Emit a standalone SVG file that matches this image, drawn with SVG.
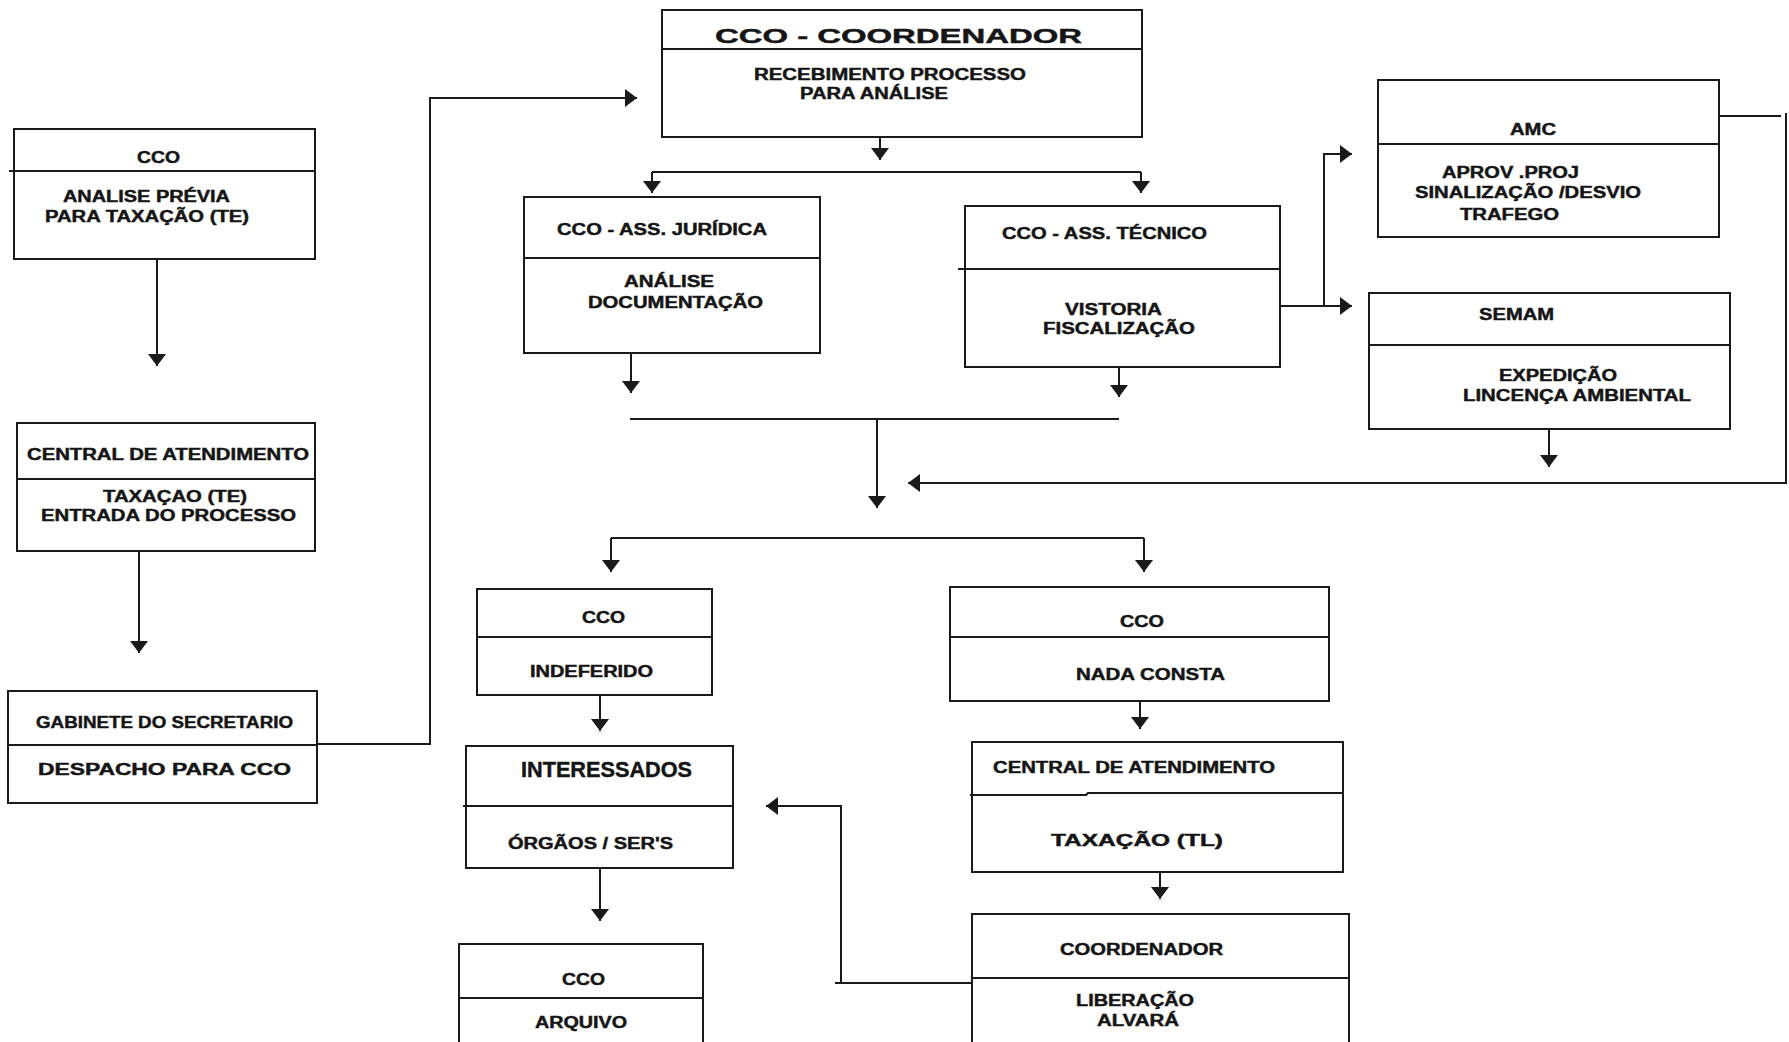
<svg xmlns="http://www.w3.org/2000/svg" width="1789" height="1042" viewBox="0 0 1789 1042">
<style>
.box{fill:#fff;stroke:#1a1a1a;stroke-width:2}
.div{stroke:#1a1a1a;stroke-width:2;fill:none}
.c{stroke:#1a1a1a;stroke-width:2;fill:none}
.a{stroke:#1a1a1a;stroke-width:2;fill:none;marker-end:url(#ah)}
text{font-family:"Liberation Sans",Arial,sans-serif;font-weight:bold;font-size:16px;fill:#151515;stroke:#151515;stroke-width:0.45}
.big{font-size:20px}
.int{font-size:22px}
</style>
<defs>
<marker id="ah" markerUnits="userSpaceOnUse" markerWidth="14" markerHeight="20" refX="12" refY="10" orient="auto" viewBox="0 0 14 20">
<path d="M0,1 L12,10 L0,19 z" fill="#1a1a1a"/>
</marker>
</defs>
<rect width="1789" height="1042" fill="#fff"/>

<g id="connectors">
<path class="a" d="M157,259 V366"/>
<path class="a" d="M139,551 V653"/>
<path class="a" d="M317,744 H430 V98 H637"/>
<path class="a" d="M880,137 V160"/>
<path class="c" d="M652,172 H1141"/>
<path class="a" d="M652,172 V193"/>
<path class="a" d="M1141,172 V193"/>
<path class="a" d="M631,353 V393"/>
<path class="a" d="M1119,367 V397"/>
<path class="c" d="M630,419 H1119"/>
<path class="a" d="M877,419 V508"/>
<path class="a" d="M1280,306 H1352"/>
<path class="a" d="M1324,307 V154 H1352"/>
<path class="c" d="M1719,116 H1781"/>
<path class="a" d="M1786,113 V483 H908"/>
<path class="a" d="M1549,429 V467"/>
<path class="c" d="M611,538 H1144"/>
<path class="a" d="M611,538 V572"/>
<path class="a" d="M1144,538 V572"/>
<path class="a" d="M600,695 V731"/>
<path class="a" d="M600,868 V921"/>
<path class="a" d="M1140,701 V729"/>
<path class="a" d="M1160,872 V899"/>
<path class="c" d="M976,983 H835"/>
<path class="a" d="M841,983 V806 H766"/>
</g>

<g id="cco-analise">
<rect class="box" x="14" y="129" width="301" height="130"/>
<path class="div" d="M9,171 H315"/>
<text x="137" y="163" textLength="43" lengthAdjust="spacingAndGlyphs">CCO</text>
<text x="63" y="202" textLength="167" lengthAdjust="spacingAndGlyphs">ANALISE PRÉVIA</text>
<text x="45" y="222" textLength="204" lengthAdjust="spacingAndGlyphs">PARA TAXAÇÃO (TE)</text>
</g>

<g id="central-te">
<rect class="box" x="17" y="423" width="298" height="128"/>
<path class="div" d="M17,479 H315"/>
<text x="27" y="460" textLength="282" lengthAdjust="spacingAndGlyphs">CENTRAL DE ATENDIMENTO</text>
<text x="103" y="502" textLength="144" lengthAdjust="spacingAndGlyphs">TAXAÇAO (TE)</text>
<text x="41" y="521" textLength="255" lengthAdjust="spacingAndGlyphs">ENTRADA DO PROCESSO</text>
</g>

<g id="gabinete">
<rect class="box" x="8" y="691" width="309" height="112"/>
<path class="div" d="M8,745 H317"/>
<text x="36" y="728" textLength="257" lengthAdjust="spacingAndGlyphs">GABINETE DO SECRETARIO</text>
<text x="38" y="775" textLength="253" lengthAdjust="spacingAndGlyphs">DESPACHO PARA CCO</text>
</g>

<g id="cco-coordenador">
<rect class="box" x="662" y="10" width="480" height="127"/>
<path class="div" d="M662,49 H1142"/>
<text class="big" x="715" y="43" textLength="367" lengthAdjust="spacingAndGlyphs">CCO - COORDENADOR</text>
<text x="754" y="80" textLength="272" lengthAdjust="spacingAndGlyphs">RECEBIMENTO PROCESSO</text>
<text x="800" y="99" textLength="148" lengthAdjust="spacingAndGlyphs">PARA ANÁLISE</text>
</g>

<g id="ass-juridica">
<rect class="box" x="524" y="197" width="296" height="156"/>
<path class="div" d="M524,258 H820"/>
<text x="557" y="235" textLength="210" lengthAdjust="spacingAndGlyphs">CCO - ASS. JURÍDICA</text>
<text x="624" y="287" textLength="90" lengthAdjust="spacingAndGlyphs">ANÁLISE</text>
<text x="588" y="308" textLength="175" lengthAdjust="spacingAndGlyphs">DOCUMENTAÇÃO</text>
</g>

<g id="ass-tecnico">
<rect class="box" x="965" y="206" width="315" height="161"/>
<path class="div" d="M958,269 H1280"/>
<text x="1002" y="239" textLength="205" lengthAdjust="spacingAndGlyphs">CCO - ASS. TÉCNICO</text>
<text x="1065" y="315" textLength="97" lengthAdjust="spacingAndGlyphs">VISTORIA</text>
<text x="1043" y="334" textLength="152" lengthAdjust="spacingAndGlyphs">FISCALIZAÇÃO</text>
</g>

<g id="amc">
<rect class="box" x="1378" y="80" width="341" height="157"/>
<path class="div" d="M1378,144 H1719"/>
<text x="1510" y="135" textLength="46" lengthAdjust="spacingAndGlyphs">AMC</text>
<text x="1442" y="178" textLength="137" lengthAdjust="spacingAndGlyphs">APROV .PROJ</text>
<text x="1415" y="198" textLength="226" lengthAdjust="spacingAndGlyphs">SINALIZAÇÃO /DESVIO</text>
<text x="1460" y="220" textLength="99" lengthAdjust="spacingAndGlyphs">TRAFEGO</text>
</g>

<g id="semam">
<rect class="box" x="1369" y="293" width="361" height="136"/>
<path class="div" d="M1369,345 H1730"/>
<text x="1479" y="320" textLength="75" lengthAdjust="spacingAndGlyphs">SEMAM</text>
<text x="1499" y="381" textLength="118" lengthAdjust="spacingAndGlyphs">EXPEDIÇÃO</text>
<text x="1463" y="401" textLength="228" lengthAdjust="spacingAndGlyphs">LINCENÇA AMBIENTAL</text>
</g>

<g id="cco-indeferido">
<rect class="box" x="477" y="589" width="235" height="106"/>
<path class="div" d="M477,637 H712"/>
<text x="582" y="623" textLength="43" lengthAdjust="spacingAndGlyphs">CCO</text>
<text x="530" y="677" textLength="123" lengthAdjust="spacingAndGlyphs">INDEFERIDO</text>
</g>

<g id="cco-nada-consta">
<rect class="box" x="950" y="587" width="379" height="114"/>
<path class="div" d="M950,637 H1329"/>
<text x="1120" y="627" textLength="44" lengthAdjust="spacingAndGlyphs">CCO</text>
<text x="1076" y="680" textLength="149" lengthAdjust="spacingAndGlyphs">NADA CONSTA</text>
</g>

<g id="interessados">
<rect class="box" x="466" y="746" width="267" height="122"/>
<path class="div" d="M463,806 H733"/>
<text class="int" x="521" y="777" textLength="171" lengthAdjust="spacingAndGlyphs">INTERESSADOS</text>
<text x="508" y="849" textLength="165" lengthAdjust="spacingAndGlyphs">ÓRGÃOS / SER'S</text>
</g>

<g id="central-tl">
<rect class="box" x="972" y="742" width="371" height="130"/>
<path class="div" d="M970,795 H1086 L1088,793 H1343"/>
<text x="993" y="773" textLength="282" lengthAdjust="spacingAndGlyphs">CENTRAL DE ATENDIMENTO</text>
<text x="1051" y="846" textLength="172" lengthAdjust="spacingAndGlyphs">TAXAÇÃO (TL)</text>
</g>

<g id="coordenador">
<rect class="box" x="972" y="914" width="377" height="140"/>
<path class="div" d="M972,978 H1349"/>
<text x="1060" y="955" textLength="163" lengthAdjust="spacingAndGlyphs">COORDENADOR</text>
<text x="1076" y="1006" textLength="118" lengthAdjust="spacingAndGlyphs">LIBERAÇÃO</text>
<text x="1097" y="1026" textLength="82" lengthAdjust="spacingAndGlyphs">ALVARÁ</text>
</g>

<g id="cco-arquivo">
<rect class="box" x="459" y="944" width="244" height="110"/>
<path class="div" d="M459,998 H703"/>
<text x="562" y="985" textLength="43" lengthAdjust="spacingAndGlyphs">CCO</text>
<text x="535" y="1028" textLength="92" lengthAdjust="spacingAndGlyphs">ARQUIVO</text>
</g>
</svg>
